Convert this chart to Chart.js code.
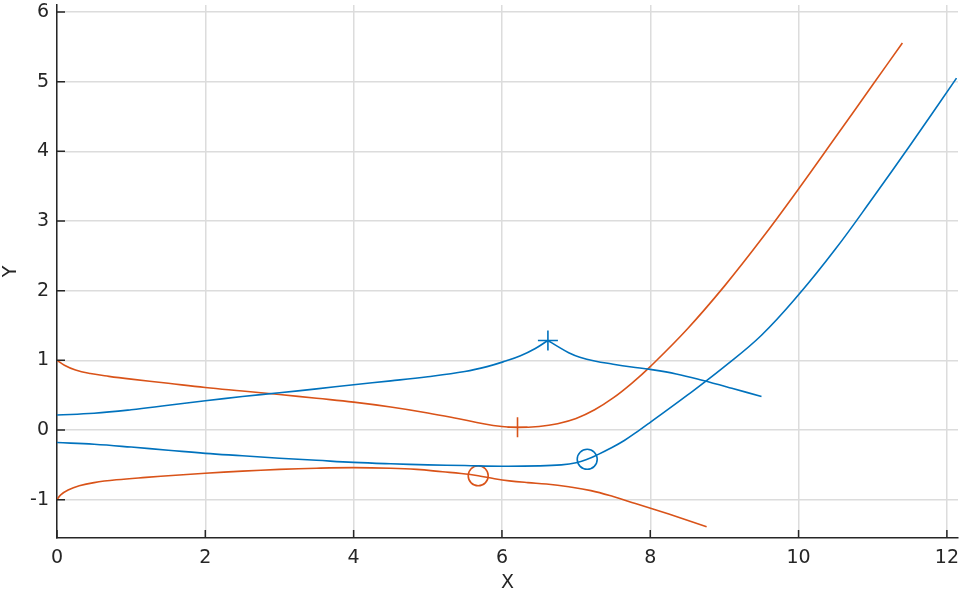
<!DOCTYPE html>
<html>
<head>
<meta charset="utf-8">
<script src="https://cdn.jsdelivr.net/npm/chart.js@4/dist/chart.umd.min.js"></script>
<style>
  html, body { margin: 0; padding: 0; background: #ffffff; }
</style>
</head>
<body>
<canvas id="locusChart" width="960" height="596"></canvas>
<script>
// ----- data -----
// blue upper branch, left of the cusp
const blueUpLeftX = [0, 0.5, 1.0, 1.5, 2.0, 2.5, 3.0, 3.5, 4.0, 4.5, 5.0, 5.5, 5.8, 6.05, 6.25, 6.45, 6.62];
const blueUpLeftY = [0.216, 0.24, 0.29, 0.355, 0.42, 0.48, 0.535, 0.59, 0.65, 0.705, 0.765, 0.84, 0.91, 0.99, 1.065, 1.17, 1.285];
// blue upper branch, right of the cusp
const blueUpRightX = [6.62, 6.75, 6.9, 7.05, 7.25, 7.5, 7.75, 8.0, 8.35, 8.7, 9.1, 9.5];
const blueUpRightY = [1.285, 1.2, 1.11, 1.045, 0.99, 0.945, 0.905, 0.87, 0.805, 0.715, 0.6, 0.48];
// blue lower branch
const blueLowX = [0, 0.5, 1.0, 1.5, 2.0, 2.5, 3.0, 3.5, 4.0, 4.5, 5.0, 5.5, 6.0, 6.5, 6.8, 7.0, 7.15, 7.3, 7.45, 7.65, 7.85, 8.0, 8.5, 9.0, 9.5, 10.0, 10.5, 11.0, 11.5, 12.13];
const blueLowY = [-0.18, -0.205, -0.245, -0.29, -0.335, -0.37, -0.405, -0.435, -0.465, -0.485, -0.5, -0.51, -0.52, -0.515, -0.5, -0.47, -0.42, -0.35, -0.27, -0.15, -0.005, 0.11, 0.5, 0.91, 1.36, 1.94, 2.6, 3.33, 4.08, 5.05];
// orange upper branch
const orangeUpX = [0, 0.1, 0.25, 0.45, 0.7, 1.0, 1.5, 2.0, 2.5, 3.0, 3.5, 4.0, 4.5, 5.0, 5.4, 5.75, 6.0, 6.21, 6.5, 6.75, 7.0, 7.25, 7.5, 7.75, 8.0, 8.5, 9.0, 9.5, 10.0, 10.5, 11.0, 11.4];
const orangeUpY = [1.0, 0.93, 0.86, 0.81, 0.77, 0.73, 0.67, 0.61, 0.56, 0.51, 0.455, 0.4, 0.33, 0.245, 0.165, 0.09, 0.05, 0.035, 0.05, 0.09, 0.165, 0.29, 0.46, 0.67, 0.91, 1.45, 2.065, 2.74, 3.46, 4.205, 4.955, 5.555];
// orange lower branch
const orangeLowX = [0, 0.05, 0.15, 0.3, 0.5, 0.8, 1.2, 1.6, 2.0, 2.5, 3.0, 3.5, 4.0, 4.5, 4.85, 5.2, 5.45, 5.68, 5.9, 6.1, 6.35, 6.6, 6.9, 7.2, 7.5, 7.8, 8.1, 8.4, 8.76];
const orangeLowY = [-1.0, -0.93, -0.86, -0.8, -0.755, -0.715, -0.68, -0.65, -0.62, -0.59, -0.565, -0.548, -0.54, -0.548, -0.565, -0.6, -0.625, -0.657, -0.7, -0.73, -0.755, -0.775, -0.815, -0.87, -0.955, -1.055, -1.155, -1.26, -1.39];
// markers
const blueCross = [6.62, 1.285];
const orangeCross = [6.21, 0.04];
const blueCircle = [7.15, -0.42];
const orangeCircle = [5.68, -0.657];
// ticks
const xTicks = [0, 2, 4, 6, 8, 10, 12];
const yTicks = [-1, 0, 1, 2, 3, 4, 5, 6];
// -------------------------------------

const BLUE = '#0072bd';
const ORANGE = '#d95319';
const INK = '#262626';

// zip two arrays into {x, y} points
function pts(xs, ys) {
    return xs.map((x, i) => ({x: x, y: ys[i]}));
}

function curve(xs, ys, color) {
    return {
        data: pts(xs, ys),
        showLine: true,
        borderColor: color,
        borderWidth: 1.6,
        pointRadius: 0,
        tension: 0.4
    };
}

function marker(p, color, style) {
    return {
        data: [{x: p[0], y: p[1]}],
        showLine: false,
        borderColor: color,
        backgroundColor: 'rgba(0,0,0,0)',
        borderWidth: 1.6,
        pointStyle: style,
        pointRadius: 10
    };
}

// small inward tick marks on both axes (like the reference)
const inwardTicks = {
    id: 'inwardTicks',
    afterDraw(chart) {
        const {ctx, chartArea, scales} = chart;
        ctx.save();
        ctx.strokeStyle = INK;
        ctx.lineWidth = 1.5;
        ctx.beginPath();
        xTicks.forEach(v => {
            const px = scales.x.getPixelForValue(v);
            ctx.moveTo(px, chartArea.bottom);
            ctx.lineTo(px, chartArea.bottom - 8);
        });
        yTicks.forEach(v => {
            const py = scales.y.getPixelForValue(v);
            ctx.moveTo(chartArea.left, py);
            ctx.lineTo(chartArea.left + 8, py);
        });
        ctx.stroke();
        ctx.restore();
    }
};

const tickFont = {family: 'DejaVu Sans', size: 19};

new Chart(document.getElementById('locusChart').getContext('2d'), {
    type: 'scatter',
    data: {
        datasets: [
            curve(blueUpLeftX, blueUpLeftY, BLUE),
            curve(blueUpRightX, blueUpRightY, BLUE),
            curve(blueLowX, blueLowY, BLUE),
            curve(orangeUpX, orangeUpY, ORANGE),
            curve(orangeLowX, orangeLowY, ORANGE),
            marker(blueCross, BLUE, 'cross'),
            marker(orangeCross, ORANGE, 'cross'),
            marker(blueCircle, BLUE, 'circle'),
            marker(orangeCircle, ORANGE, 'circle')
        ]
    },
    options: {
        responsive: false,
        animation: false,
        layout: {autoPadding: false, padding: {top: 5, right: 2, left: 0, bottom: 0}},
        plugins: {
            legend: {display: false},
            tooltip: {enabled: false}
        },
        scales: {
            x: {
                type: 'linear',
                min: 0,
                max: 12.15,
                afterBuildTicks: (scale) => { scale.ticks = xTicks.map(v => ({value: v})); },
                afterFit: (scale) => {
                    scale.height = 58;
                    scale.paddingLeft = 0;
                    scale.paddingRight = 0;
                },
                grid: {color: '#dcdcdc', lineWidth: 1.5, drawTicks: false},
                border: {display: true, color: INK, width: 1.5},
                ticks: {color: INK, font: tickFont, padding: 9, maxRotation: 0},
                title: {display: true, text: 'X', color: INK, font: tickFont, padding: {top: 0, bottom: 1.5}}
            },
            y: {
                type: 'linear',
                min: -1.55,
                max: 6.1,
                afterBuildTicks: (scale) => { scale.ticks = yTicks.map(v => ({value: v})); },
                afterFit: (scale) => {
                    scale.width = 57;
                    scale.paddingTop = 0;
                    scale.paddingBottom = 0;
                },
                grid: {color: '#dcdcdc', lineWidth: 1.5, drawTicks: false},
                border: {display: true, color: INK, width: 1.5},
                ticks: {color: INK, font: tickFont, padding: 8},
                title: {display: true, text: 'Y', color: INK, font: tickFont, padding: {top: 0, bottom: 0}}
            }
        }
    },
    plugins: [inwardTicks]
});
</script>
</body>
</html>
